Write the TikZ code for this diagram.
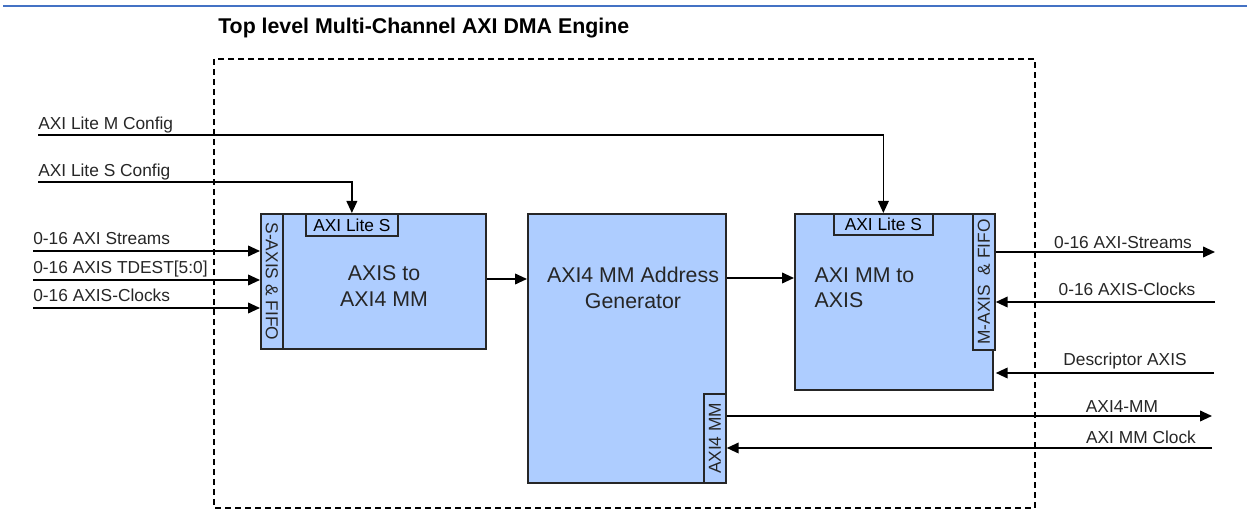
\documentclass[tikz,border=0pt]{standalone}
\usepackage{fontspec}
\setmainfont{Liberation Sans}
\usetikzlibrary{arrows.meta}
\definecolor{blkblue}{RGB}{174,205,255}
\definecolor{rulerblue}{RGB}{68,114,196}
\begin{document}
\begin{tikzpicture}[x=0.75pt,y=-0.75pt,font=\fontsize{13}{15}\selectfont,
  blk/.style={draw=black!85,fill=blkblue,line width=1.3pt,anchor=north west,inner sep=0pt},
  port/.style={blk,font=\fontsize{13}{15}\selectfont},
  big/.style={font=\fontsize{16}{19}\selectfont,text=black!85},
  sig/.style={line width=1.3pt,-{Triangle[length=9pt,width=8pt]}},
  lbl/.style={inner sep=0pt,text=black!85}]
\useasboundingbox (0,0) rectangle (1247,523);
\draw[rulerblue,line width=1.5pt] (3,6) -- (1247,6);
\node[anchor=base west,inner sep=0pt] (title) at (218,34) {\fontsize{16}{19}\selectfont\bfseries Top level Multi-Channel AXI DMA Engine};
\draw[line width=1.3pt,dash pattern=on 4.5pt off 3pt] (214,59) rectangle (1035,508);
% blocks
\node[blk,minimum width=168.75pt,minimum height=101.25pt] (s2mm) at (260,213) {};
\node[port,minimum width=16.5pt,minimum height=101.25pt] (sfifo) at (260,213) {};
\node[lbl,rotate=-90] at (sfifo.center) {S-AXIS \& FIFO};
\node[port,minimum width=69pt,minimum height=16.5pt] (slite) at (305,213) {AXI Lite S};
\node[big,align=center] (s2mmtxt) at (384,286) {AXIS to\\AXI4 MM};
\node[blk,minimum width=148.5pt,minimum height=201.75pt] (addrgen) at (527,213) {};
\node[big,align=center] (agtxt) at (633,288) {AXI4 MM Address\\Generator};
\node[port,minimum width=16.5pt,minimum height=66.75pt] (mmport) at (703,393) {};
\node[lbl,rotate=90] at (mmport.center) {AXI4 MM};
\node[blk,minimum width=148.5pt,minimum height=132pt] (mm2s) at (794,213) {};
\node[port,minimum width=74.25pt,minimum height=15.75pt] (mlite) at (833,213) {AXI Lite S};
\node[port,minimum width=16.5pt,minimum height=102pt] (mfifo) at (972,213) {};
\node[lbl,rotate=90] at (mfifo.center) {M-AXIS \ \& FIFO};
\node[big,align=left,anchor=west] (mm2stxt) at (810,288) {AXI MM to\\AXIS};
% signal ends
\coordinate (lmcfg) at (38,135); \coordinate (lscfg) at (38,182);
\coordinate (in1) at (33,251); \coordinate (in2) at (33,280); \coordinate (in3) at (33,308);
\coordinate (o1) at (1215,252); \coordinate (o2) at (1215,302); \coordinate (o3) at (1214,373); \coordinate (o4) at (1212,416); \coordinate (o5) at (1212,448);
% connectors
\draw[sig] (lmcfg) -| (mlite.north); \draw[sig] (lscfg) -| (slite.north);
\draw[sig] (in1) -- (in1 -| sfifo.west); \draw[sig] (in2) -- (in2 -| sfifo.west); \draw[sig] (in3) -- (in3 -| sfifo.west);
\draw[sig] (s2mm.east |- 0,279) -- (addrgen.west |- 0,279); \draw[sig] (addrgen.east |- 0,278) -- (mm2s.west |- 0,278);
\draw[sig] (mfifo.east |- o1) -- (o1); \draw[sig] (o2) -- (o2 -| mfifo.east); \draw[sig] (o3) -- (o3 -| mfifo.east);
\draw[sig] (mmport.east |- o4) -- (o4); \draw[sig] (o5) -- (o5 -| mmport.east);
% labels
\node[lbl,anchor=base west] at (38,130) {AXI Lite M Config}; \node[lbl,anchor=base west] at (38,177) {AXI Lite S Config};
\node[lbl,anchor=base west] at (33,245) {0-16 AXI Streams}; \node[lbl,anchor=base west] at (33,274) {0-16 AXIS TDEST[5:0]}; \node[lbl,anchor=base west] at (33,302) {0-16 AXIS-Clocks};
\node[lbl,anchor=base] at (1123,249) {0-16 AXI-Streams}; \node[lbl,anchor=base] at (1127,296) {0-16 AXIS-Clocks}; \node[lbl,anchor=base] at (1125,366) {Descriptor AXIS};
\node[lbl,anchor=base] at (1122,413) {AXI4-MM}; \node[lbl,anchor=base] at (1141,444) {AXI MM Clock};
\end{tikzpicture}
\end{document}
